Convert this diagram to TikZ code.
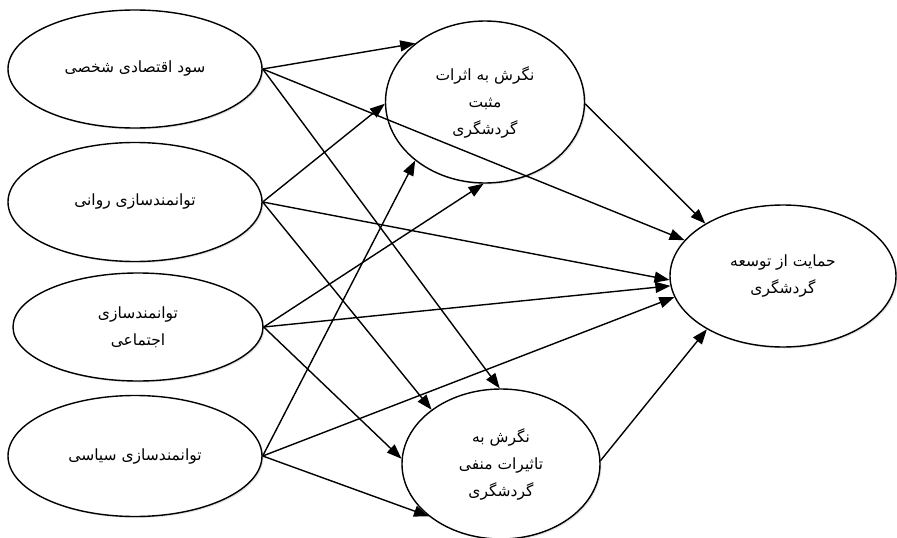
\documentclass[tikz,border=0pt]{standalone}
\usepackage{fontspec}
\newfontfamily\arabicfont[Script=Arabic]{DejaVu Sans}
\TeXXeTstate=1
\usetikzlibrary{shapes.geometric,arrows.meta,shadows}
\begin{document}
\begin{tikzpicture}[x=1pt,y=-1pt,
  var/.style={ellipse, draw=black, line width=1.4pt, fill=white, inner sep=0pt,
    align=center, font=\arabicfont\fontsize{15.5}{27}\selectfont,
    drop shadow={opacity=0.22, shadow xshift=1.5pt, shadow yshift=-1.5pt}},
  arr/.style={line width=1.4pt, -{Triangle[length=15pt,width=11pt]}}]
\useasboundingbox (0,0) rectangle (897,538);
\node[var, minimum width=254pt, minimum height=118pt] (s1) at (135,69) {\beginR سود اقتصادی شخصی\endR};
\node[var, minimum width=254pt, minimum height=119pt] (s2) at (135,202) {\beginR توانمندسازی روانی\endR};
\node[var, minimum width=250pt, minimum height=108pt] (s3) at (138,327) {\beginR توانمندسازی\endR\\\beginR اجتماعی\endR};
\node[var, minimum width=254pt, minimum height=121pt] (s4) at (135,456) {\beginR توانمندسازی سیاسی\endR};
\node[var, minimum width=199pt, minimum height=162pt] (pos) at (485,102) {\beginR نگرش به اثرات\endR\\\beginR مثبت\endR\\\beginR گردشگری\endR};
\node[var, minimum width=198pt, minimum height=150pt] (neg) at (501,464) {\beginR نگرش به\endR\\\beginR تاثیرات منفی\endR\\\beginR گردشگری\endR};
\node[var, minimum width=226pt, minimum height=142pt] (sup) at (783,276) {\beginR حمایت از توسعه\endR\\\beginR گردشگری\endR};

\draw[arr] (s1.east) -- (pos.140.8);
\draw[arr] (s1.east) -- (sup.160.1);
\draw[arr] (s1.east) -- (neg.91.5);

\draw[arr] (s2.east) -- (pos.181);
\draw[arr] (s2.east) -- (sup.182);
\draw[arr] (s2.east) -- (neg.142.6);

\draw[arr] (s3.east) -- (pos.269);
\draw[arr] (s3.east) -- (sup.185.8);
\draw[arr] (s3.east) -- (neg.177.7);

\draw[arr] (s4.east) -- (pos.220.6);
\draw[arr] (s4.east) -- (sup.191);
\draw[arr] (s4.east) -- (neg.216.7);

\draw[arr] (pos.-1) -- (sup.146.5);
\draw[arr] (neg.2) -- (sup.215.5);
\end{tikzpicture}
\end{document}
